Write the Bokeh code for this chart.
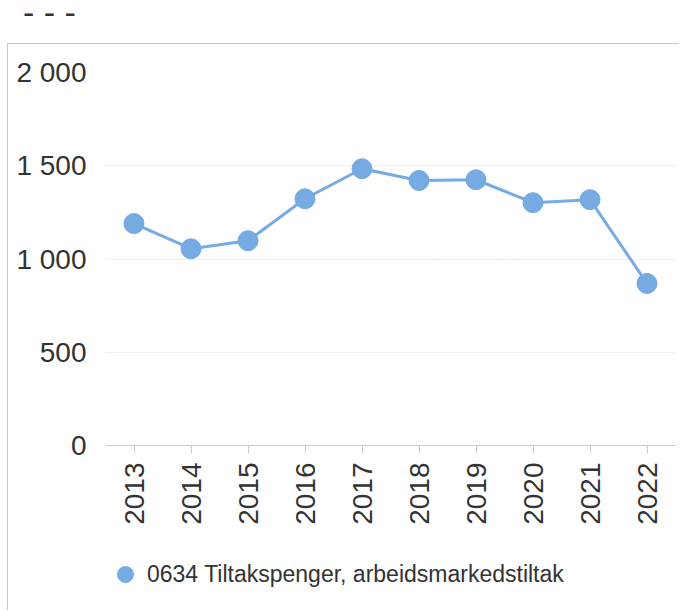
import math
from bokeh.plotting import figure
from bokeh.layouts import column
from bokeh.models import (FactorRange, Range1d, FixedTicker, Legend, LegendItem,
                          ColumnDataSource, Div)
from bokeh.embed import file_html
from bokeh.resources import INLINE

# ---- data ----
years = ["2013", "2014", "2015", "2016", "2017", "2018", "2019", "2020", "2021", "2022"]
values = [1190, 1055, 1098, 1323, 1484, 1421, 1425, 1302, 1318, 869]
series_name = "0634 Tiltakspenger, arbeidsmarkedstiltak"
y_ticks = [0, 500, 1000, 1500, 2000]
y_tick_labels = ["0", "500", "1 000", "1 500", "2 000"]
title_text = "- - -"

# ---- style ----
COLOR = "#75aae3"
TXT = "#333333"
FONT = "Liberation Sans"
BORDER = "#c8c8c8"
W = 672

title = Div(text=title_text, width=680, height=43, margin=0,
            styles={"font-family": FONT, "font-size": "34px", "color": TXT,
                    "line-height": "25px", "padding-left": "23px",
                    "box-sizing": "border-box"})

src = ColumnDataSource(dict(year=years, value=values))

p = figure(width=W, height=491,
           x_range=FactorRange(*years), y_range=Range1d(0, 2000),
           output_backend="svg", toolbar_location=None,
           min_border_left=97, min_border_right=5, min_border_top=28, min_border_bottom=90,
           margin=(0, 0, 0, 7),
           styles={"border-top": "1px solid " + BORDER, "border-left": "1px solid " + BORDER})
p.outline_line_color = None
p.background_fill_color = "white"
p.border_fill_color = "white"

p.line("year", "value", source=src, line_width=3, color=COLOR)
p.scatter("year", "value", source=src, size=20, color=COLOR)

# y axis
p.yaxis.ticker = FixedTicker(ticks=y_ticks)
p.yaxis.major_label_overrides = {t: l for t, l in zip(y_ticks, y_tick_labels)}
p.yaxis.axis_line_color = None
p.yaxis.major_tick_line_color = None
p.yaxis.minor_tick_line_color = None
p.yaxis.major_label_text_font = FONT
p.yaxis.major_label_text_font_size = "28px"
p.yaxis.major_label_text_color = TXT
p.yaxis.major_label_standoff = 13

# x axis
p.xaxis.axis_line_color = "#cccccc"
p.xaxis.major_tick_line_color = "#cccccc"
p.xaxis.major_tick_out = 8
p.xaxis.major_tick_in = 0
p.xaxis.major_label_orientation = math.pi / 2
p.xaxis.major_label_text_font = FONT
p.xaxis.major_label_text_font_size = "28px"
p.xaxis.major_label_text_color = TXT
p.xaxis.major_label_standoff = 9

p.xgrid.grid_line_color = None
p.ygrid.grid_line_color = "#dcdcdc"
p.ygrid.grid_line_dash = "1 1"

# ---- legend strip (continues the framed box) ----
lg = figure(width=W, height=76, x_range=FactorRange(*years), y_range=Range1d(10000, 10001),
            output_backend="svg", toolbar_location=None,
            x_axis_location=None, y_axis_location=None,
            min_border=0, min_border_left=0, min_border_right=0,
            min_border_top=0, min_border_bottom=0,
            margin=(0, 0, 0, 7),
            styles={"border-left": "1px solid " + BORDER})
lg.outline_line_color = None
lg.xgrid.grid_line_color = None
lg.ygrid.grid_line_color = None
lr = lg.scatter("year", "value", source=src, size=20, color=COLOR)

legend = Legend(items=[LegendItem(label=series_name, renderers=[lr])],
                location=(0, 15), orientation="horizontal", margin=0, padding=0,
                glyph_width=40, glyph_height=42, label_standoff=2,
                label_text_font=FONT, label_text_font_size="23px",
                label_text_color=TXT, border_line_color=None,
                background_fill_alpha=0)
lg.add_layout(legend, "center")

layout = column(title, p, lg, spacing=0)

open("out.html", "w").write(file_html(layout, INLINE))
